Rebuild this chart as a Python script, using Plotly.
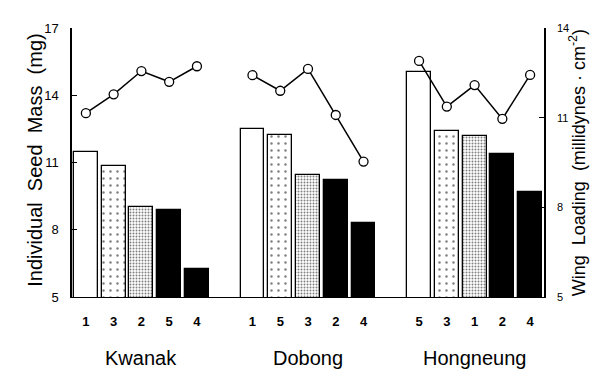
import plotly.graph_objects as go

groups = ["Kwanak", "Dobong", "Hongneung"]
bar_labels = [["1", "3", "2", "5", "4"],
              ["1", "5", "3", "2", "4"],
              ["5", "3", "1", "2", "4"]]
seed_mass = [[11.45, 10.85, 9.0, 8.87, 6.25],
             [12.48, 12.23, 10.44, 10.22, 8.31],
             [15.05, 12.4, 12.18, 11.36, 9.7]]
wing_loading = [[11.15, 11.78, 12.56, 12.2, 12.72],
                [12.42, 11.9, 12.63, 11.09, 9.53],
                [12.9, 11.37, 12.09, 10.96, 12.43]]

FONT = "Liberation Sans, Arial, Helvetica, sans-serif"

# slot positions: 5 bars, one empty slot, 5 bars, one empty slot, 5 bars
positions = [[g * 6 + i for i in range(5)] for g in range(3)]

styles = [
    dict(color="white", pattern=None),
    dict(color="white", pattern=dict(shape=".", size=7, solidity=0.1, fgcolor="black", bgcolor="white")),
    dict(color="white", pattern=dict(shape=".", size=3, solidity=0.33, fgcolor="black", bgcolor="white")),
    dict(color="black", pattern=None),
    dict(color="black", pattern=None),
]

fig = go.Figure()

for rank in range(5):
    xs = [positions[g][rank] for g in range(3)]
    ys = [seed_mass[g][rank] for g in range(3)]
    st = styles[rank]
    marker = dict(color=st["color"], line=dict(color="black", width=1.3))
    if st["pattern"]:
        marker["pattern"] = st["pattern"]
    fig.add_trace(go.Bar(x=xs, y=ys, width=0.86, marker=marker,
                         showlegend=False, yaxis="y", base=0))

for g in range(3):
    fig.add_trace(go.Scatter(
        x=positions[g], y=wing_loading[g], yaxis="y2", mode="lines+markers",
        line=dict(color="black", width=1.5),
        marker=dict(symbol="circle", size=9, color="white",
                    line=dict(color="black", width=1.3)),
        showlegend=False))

tickvals = [p for grp in positions for p in grp]
ticktext = ["<b>%s</b>" % t for grp in bar_labels for t in grp]

fig.update_layout(
    width=604, height=371,
    margin=dict(l=72, r=60, t=28, b=74),
    paper_bgcolor="white", plot_bgcolor="white",
    bargap=0,
    font=dict(family=FONT, color="black"),
    xaxis=dict(range=[-0.5, 16.5], tickvals=tickvals, ticktext=ticktext,
               showline=True, linecolor="black", linewidth=1.3,
               ticks="", showgrid=False, zeroline=False,
               tickfont=dict(size=13, family=FONT), ticklabelstandoff=12),
    yaxis=dict(range=[5, 17], tickvals=[5, 8, 11, 14, 17],
               showline=True, linecolor="black", linewidth=1.5,
               ticks="inside", ticklen=5, tickcolor="black",
               showgrid=False, zeroline=False,
               tickfont=dict(size=13, family=FONT), ticklabelstandoff=9),
    yaxis2=dict(range=[5, 14], tickvals=[5, 8, 11, 14], overlaying="y",
                side="right", showline=True, linecolor="black", linewidth=1.5,
                ticks="inside", ticklen=5, tickcolor="black",
                showgrid=False, zeroline=False,
                tickfont=dict(size=11, family=FONT), ticklabelstandoff=9),
)

annotations = []
for g in range(3):
    annotations.append(dict(x=positions[g][2], y=-0.227, xref="x", yref="paper",
                            text=groups[g], showarrow=False,
                            font=dict(size=20, family=FONT), yanchor="middle"))
annotations.append(dict(x=-0.106, y=0.51, xref="paper", yref="paper",
                        text="Individual  Seed  Mass  (mg)", textangle=-90,
                        showarrow=False, font=dict(size=20, family=FONT)))
annotations.append(dict(x=1.1, y=0.5, xref="paper", yref="paper",
                        text="Wing  Loading  (millidynes · cm<sup>-2</sup>)", textangle=-90,
                        showarrow=False, font=dict(size=18, family=FONT)))
fig.update_layout(annotations=annotations)

fig.write_html("out.html", config={"displayModeBar": False},
               post_script="document.body.style.margin='0';document.body.style.padding='0';")
